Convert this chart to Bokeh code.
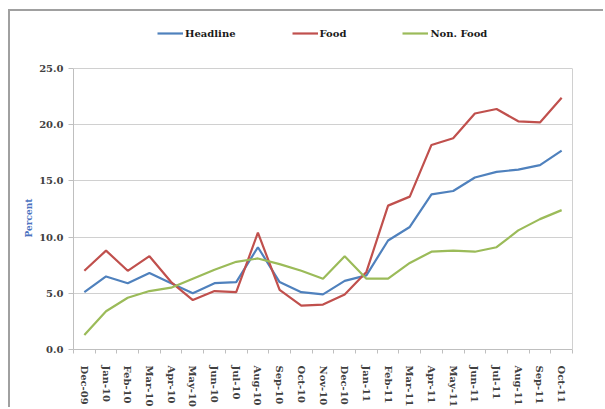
from bokeh.plotting import figure
from bokeh.models import (ColumnDataSource, FixedTicker, NumeralTickFormatter,
                          Legend, LegendItem, Range1d, LinearAxis, Title)
from bokeh.embed import file_html
from bokeh.resources import INLINE

# Monthly inflation, year-on-year (%)
months = ["Dec-09", "Jan-10", "Feb-10", "Mar-10", "Apr-10", "May-10", "Jun-10",
          "Jul-10", "Aug-10", "Sep-10", "Oct-10", "Nov-10", "Dec-10", "Jan-11",
          "Feb-11", "Mar-11", "Apr-11", "May-11", "Jun-11", "Jul-11", "Aug-11",
          "Sep-11", "Oct-11"]
headline = [5.1, 6.5, 5.9, 6.8, 5.9, 5.0, 5.9, 6.0, 9.1, 6.0, 5.1, 4.9, 6.1,
            6.6, 9.7, 10.9, 13.8, 14.1, 15.3, 15.8, 16.0, 16.4, 17.7]
food = [7.0, 8.8, 7.0, 8.3, 6.0, 4.4, 5.2, 5.1, 10.4, 5.3, 3.9, 4.0, 4.9,
        6.9, 12.8, 13.6, 18.2, 18.8, 21.0, 21.4, 20.3, 20.2, 22.4]
non_food = [1.3, 3.4, 4.6, 5.2, 5.5, 6.3, 7.1, 7.8, 8.1, 7.6, 7.0, 6.3, 8.3,
            6.3, 6.3, 7.7, 8.7, 8.8, 8.7, 9.1, 10.6, 11.6, 12.4]
y_ticks = [0, 5, 10, 15, 20, 25]
y_max = 25

series = [("Headline", "headline", "#4f81bd"),
          ("Food", "food", "#c0504d"),
          ("Non. Food", "non_food", "#9bbb59")]

xpos = [i + 0.5 for i in range(len(months))]
source = ColumnDataSource(dict(x=xpos, month=months, headline=headline,
                               food=food, non_food=non_food))

FONT = "DejaVu Serif"
GRID = "#d0d0d0"
AXIS = "#bfbfbf"

# The frame runs up to the top of the canvas so the legend can sit inside it;
# the value scale keeps 0-25 over the lower 281 of its 338 pixels.
FRAME_H, PLOT_H = 338, 281
p = figure(width=595, height=398, output_backend="svg", toolbar_location=None,
           x_range=Range1d(0, len(months)),
           y_range=Range1d(0, y_max * FRAME_H / PLOT_H),
           min_border_left=63, min_border_right=33, min_border_top=0,
           min_border_bottom=60)
# grey rule along the top and left edges of the chart area
p.styles = {"margin-left": "8px", "margin-top": "9px",
            "border-left": "2px solid #a0a0a0",
            "border-top": "2px solid #a0a0a0"}
p.background_fill_color = "white"
p.border_fill_color = "white"
p.outline_line_color = None

# y axis
p.yaxis.ticker = FixedTicker(ticks=y_ticks)
p.yaxis.bounds = (0, y_max)
p.yaxis.formatter = NumeralTickFormatter(format="0.0")
p.yaxis.axis_line_color = AXIS
p.yaxis.major_tick_line_color = AXIS
p.yaxis.major_tick_out = 5
p.yaxis.major_tick_in = 0
p.yaxis.minor_tick_line_color = None
p.yaxis.major_label_standoff = 5
p.yaxis.major_label_text_font = FONT
p.yaxis.major_label_text_font_style = "bold"
p.yaxis.major_label_text_font_size = "10px"
p.yaxis.major_label_text_color = "#404040"

# right edge of the plot area
right = LinearAxis(ticker=FixedTicker(ticks=[]), bounds=(0, y_max),
                   axis_line_color=GRID, major_tick_line_color=None,
                   minor_tick_line_color=None, major_label_text_font_size="0px")
p.add_layout(right, "right")

# x axis: labels at month centres, tick marks at month boundaries
p.xaxis.ticker = FixedTicker(ticks=xpos, minor_ticks=list(range(len(months) + 1)))
p.xaxis.major_label_overrides = {x: m for x, m in zip(xpos, months)}
p.xaxis.major_label_orientation = "vertical"
p.xaxis.axis_line_color = AXIS
p.xaxis.major_tick_line_color = None
p.xaxis.minor_tick_line_color = AXIS
p.xaxis.minor_tick_out = 4
p.xaxis.minor_tick_in = 0
p.xaxis.major_label_standoff = 10
p.xaxis.major_label_text_font = FONT
p.xaxis.major_label_text_font_style = "bold"
p.xaxis.major_label_text_font_size = "10px"
p.xaxis.major_label_text_color = "#404040"

p.xgrid.grid_line_color = None
p.ygrid.ticker = FixedTicker(ticks=y_ticks)
p.ygrid.grid_line_color = GRID
p.ygrid.grid_line_width = 1

# value-axis title
p.add_layout(Title(text="Percent", align="left", offset=112, standoff=6,
                   text_font=FONT, text_font_style="bold",
                   text_font_size="9px", text_color="#4a72c0"), "left")

items = []
for name, key, color in series:
    r = p.line("x", key, source=source, line_color=color, line_width=2.2)
    items.append(LegendItem(label=name, renderers=[r]))

legend = Legend(items=items, orientation="horizontal", location=(84, 310),
                spacing=56, glyph_width=26, glyph_height=12, label_height=12,
                label_standoff=2, padding=0, margin=0,
                label_text_font=FONT, label_text_font_style="bold",
                label_text_font_size="10px", label_text_color="#1a1a1a",
                border_line_alpha=0, background_fill_alpha=0)
p.add_layout(legend, "center")

open("out.html", "w").write(file_html(p, INLINE))
